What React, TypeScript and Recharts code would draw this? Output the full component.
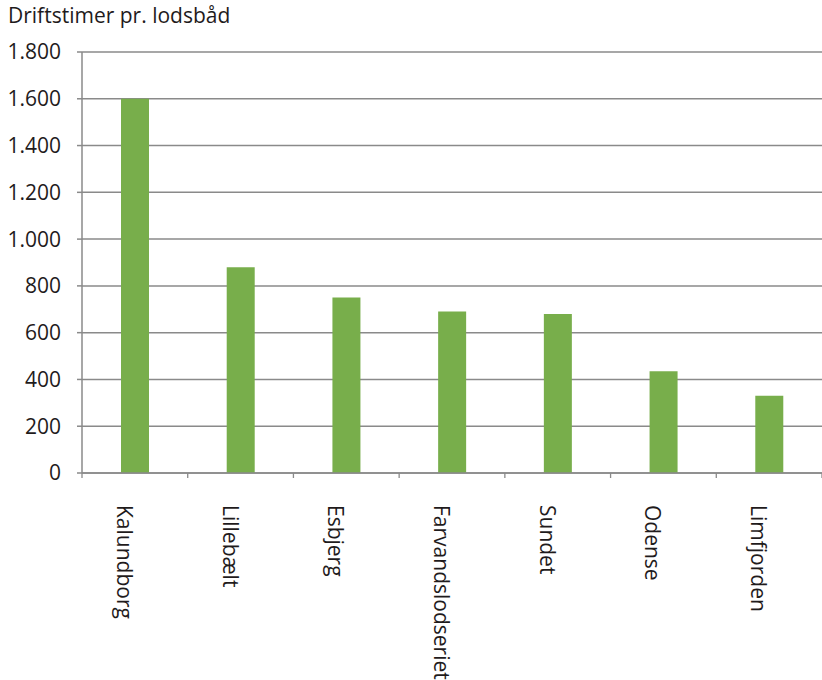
import React from 'react';
import { BarChart, Bar, XAxis, YAxis, CartesianGrid } from 'recharts';

const categories = ['Kalundborg', 'Lillebælt', 'Esbjerg', 'Farvandslodseriet', 'Sundet', 'Odense', 'Limfjorden'];
const hours = [1600, 880, 750, 690, 680, 435, 330];
const yTicks = [0, 200, 400, 600, 800, 1000, 1200, 1400, 1600, 1800];
const title = 'Driftstimer pr. lodsbåd';

const data = categories.map((name, i) => ({ name, value: hours[i] }));

const W = 822;
const H = 680;
const LEFT = 82;
const RIGHT = 0;
const FONT = '"Open Sans", "Noto Sans", sans-serif';
const GRID = '#8a8a8a';
const BAR = '#78AE4B';
const TEXT = '#1f1b1c';

const bandWidth = (W - LEFT - RIGHT) / categories.length;

const fmt = (v: number) => v.toString().replace(/\B(?=(\d{3})+(?!\d))/g, '.');

const XTick = (props: any) => {
  const { x, y, payload, index } = props;
  const half = bandWidth / 2;
  const ty = y + 24;
  const tx = x - 18;
  return (
    <g>
      <line x1={x - half} x2={x - half} y1={y - 8} y2={y - 3} stroke={GRID} strokeWidth={1.3} />
      {index === categories.length - 1 && (
        <line x1={x + half} x2={x + half} y1={y - 8} y2={y - 3} stroke={GRID} strokeWidth={1.3} />
      )}
      <text
        x={tx}
        y={ty}
        transform={`rotate(90, ${tx}, ${ty})`}
        textAnchor="start"
        fontSize={21}
        fontFamily={FONT}
        fill={TEXT}
      >
        {payload.value}
      </text>
    </g>
  );
};

export default function App() {
  return (
    <div style={{ position: 'absolute', left: 0, top: 0, width: W, height: H, background: '#fff' }}>
      <div
        style={{
          position: 'absolute',
          left: 8,
          top: 1,
          fontFamily: FONT,
          fontSize: 21,
          color: TEXT,
          whiteSpace: 'nowrap',
        }}
      >
        {title}
      </div>
      <BarChart
        width={W}
        height={H}
        data={data}
        margin={{ top: 52, right: RIGHT, left: 0, bottom: 0 }}
        barCategoryGap={0}
      >
        <CartesianGrid vertical={false} stroke={GRID} strokeWidth={1.5} />
        <XAxis
          dataKey="name"
          height={207}
          interval={0}
          tickLine={false}
          axisLine={{ stroke: GRID, strokeWidth: 1.5 }}
          tick={<XTick />}
        />
        <YAxis
          width={LEFT}
          domain={[0, 1800]}
          ticks={yTicks}
          interval={0}
          tickFormatter={fmt}
          tickSize={5}
          tickMargin={16}
          axisLine={{ stroke: GRID, strokeWidth: 1.5 }}
          tickLine={{ stroke: GRID, strokeWidth: 1.5 }}
          tick={{ fontSize: 21, fontFamily: FONT, fill: TEXT }}
        />
        <Bar dataKey="value" fill={BAR} barSize={28} isAnimationActive={false} />
      </BarChart>
    </div>
  );
}
